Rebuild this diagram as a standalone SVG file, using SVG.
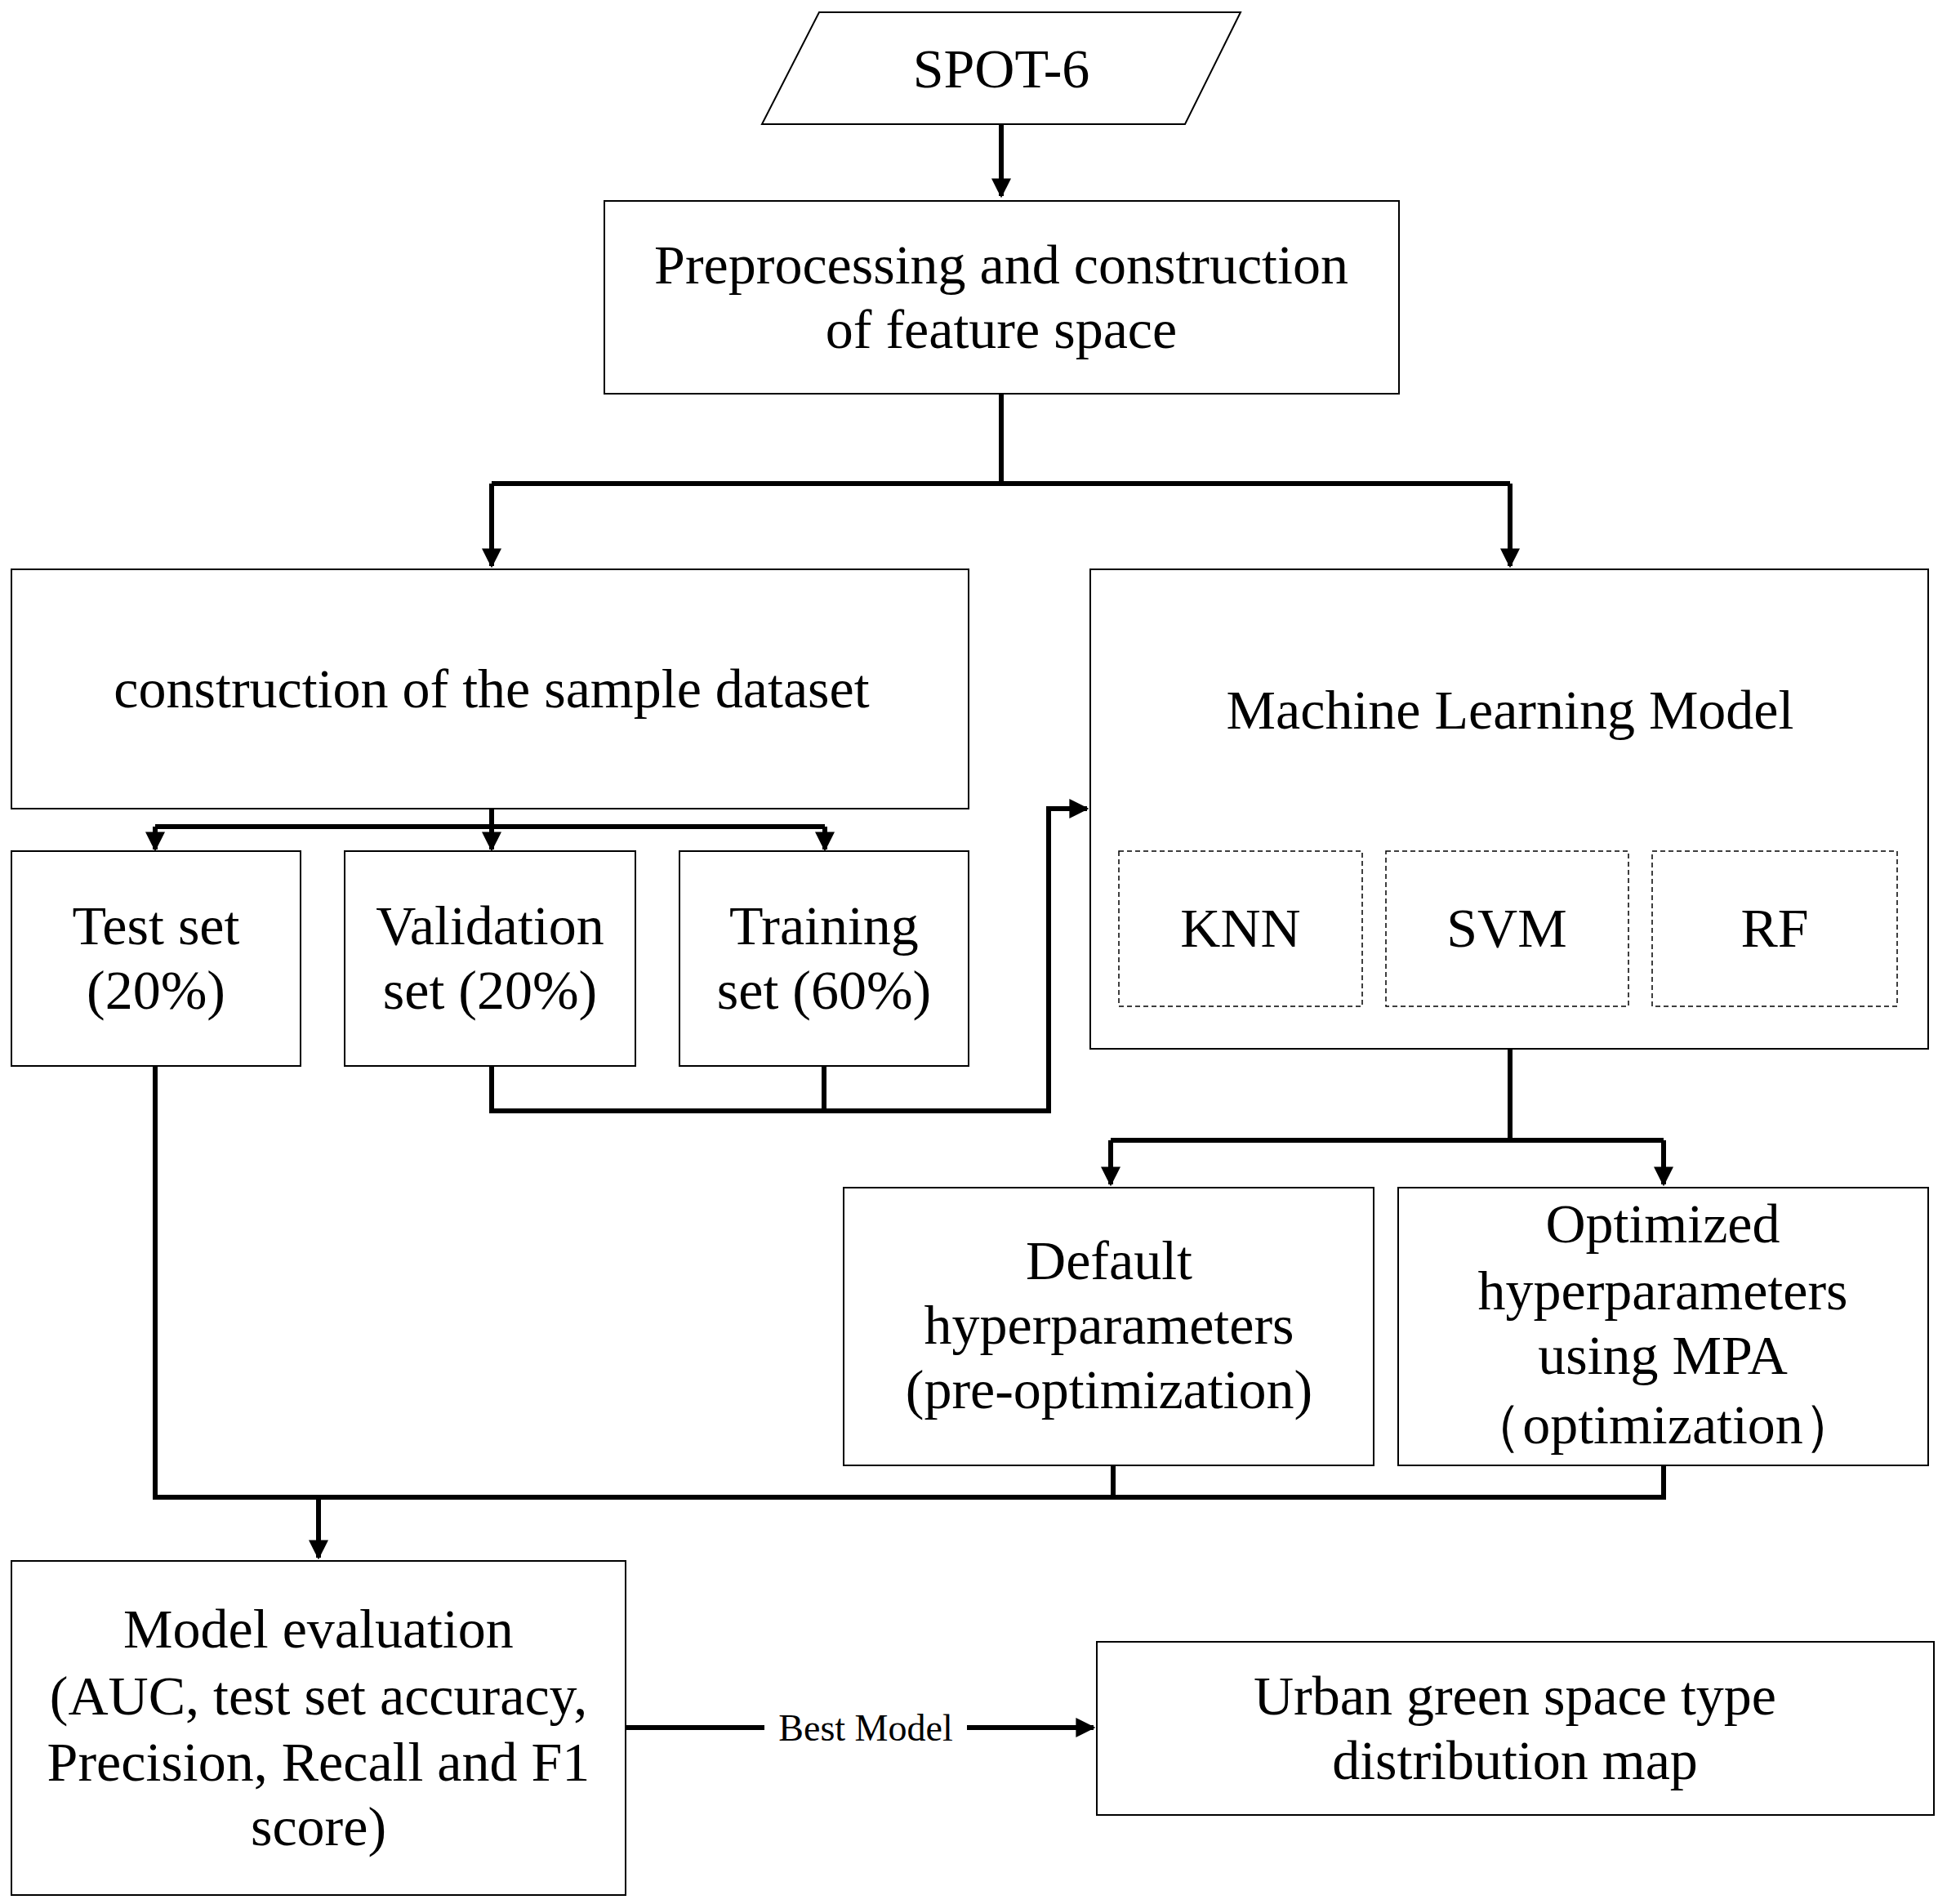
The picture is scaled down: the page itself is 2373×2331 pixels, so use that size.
<svg xmlns="http://www.w3.org/2000/svg" width="2373" height="2331" viewBox="0 0 2373 2331">
<defs>
<style>
.b{fill:#fff;stroke:#000;stroke-width:2}
.d{fill:none;stroke:#000;stroke-width:1.5;stroke-dasharray:6 4}
.t{font-family:"Liberation Serif",serif;font-size:68px;text-anchor:middle;dominant-baseline:central;fill:#000}
.c{fill:none;stroke:#000;stroke-width:6}
</style>
<marker id="a" viewBox="0 0 10 10" refX="9" refY="5" markerWidth="4" markerHeight="4" orient="auto" markerUnits="strokeWidth"><path d="M0,0L10,5L0,10z" fill="#000"/></marker>
</defs>
<rect width="2373" height="2331" fill="#fff"/>
<g id="connectors">
<path class="c" d="M1226,152V240" marker-end="url(#a)"/>
<path class="c" d="M1226,482V592M602,592H1849"/>
<path class="c" d="M602,592V693" marker-end="url(#a)"/>
<path class="c" d="M1849,592V693" marker-end="url(#a)"/>
<path class="c" d="M602,990V1012M190,1012H1010"/>
<path class="c" d="M190,1012V1040" marker-end="url(#a)"/>
<path class="c" d="M602,1012V1040" marker-end="url(#a)"/>
<path class="c" d="M1010,1012V1040" marker-end="url(#a)"/>
<path class="c" d="M602,1305V1360H1284V990H1331" marker-end="url(#a)"/>
<path class="c" d="M1009,1305V1360"/>
<path class="c" d="M1849,1284V1396M1360,1396H2037"/>
<path class="c" d="M1360,1396V1450" marker-end="url(#a)"/>
<path class="c" d="M2037,1396V1450" marker-end="url(#a)"/>
<path class="c" d="M190,1305V1833H2037V1794M1363,1794V1833"/>
<path class="c" d="M390,1833V1907" marker-end="url(#a)"/>
<path class="c" d="M766,2115H936M1184,2115H1339" marker-end="url(#a)"/>
<text class="t" x="1060" y="2115" style="font-size:46px">Best Model</text>
</g>
<g id="spot6"><path class="b" d="M1003,15H1519L1451,152H933z"/><text class="t" x="1226" y="84">SPOT-6</text></g>
<g id="preproc"><rect class="b" x="740" y="246" width="973" height="236"/><text class="t" x="1226" y="324">Preprocessing and construction</text><text class="t" x="1226" y="403">of feature space</text></g>
<g id="sample"><rect class="b" x="14" y="697" width="1172" height="293"/><text class="t" x="602" y="843">construction of the sample dataset</text></g>
<g id="ml"><rect class="b" x="1335" y="697" width="1026" height="587"/><text class="t" x="1849" y="869">Machine Learning Model</text>
<g id="knn"><rect class="d" x="1370" y="1042" width="298" height="190"/><text class="t" x="1519" y="1136">KNN</text></g>
<g id="svm"><rect class="d" x="1697" y="1042" width="297" height="190"/><text class="t" x="1845" y="1136">SVM</text></g>
<g id="rf"><rect class="d" x="2023" y="1042" width="300" height="190"/><text class="t" x="2173" y="1136">RF</text></g></g>
<g id="test"><rect class="b" x="14" y="1042" width="354" height="263"/><text class="t" x="191" y="1133">Test set</text><text class="t" x="191" y="1212">(20%)</text></g>
<g id="val"><rect class="b" x="422" y="1042" width="356" height="263"/><text class="t" x="600" y="1133">Validation</text><text class="t" x="600" y="1212">set (20%)</text></g>
<g id="train"><rect class="b" x="832" y="1042" width="354" height="263"/><text class="t" x="1009" y="1133">Training</text><text class="t" x="1009" y="1212">set (60%)</text></g>
<g id="default"><rect class="b" x="1033" y="1454" width="649" height="340"/><text class="t" x="1358" y="1543">Default</text><text class="t" x="1358" y="1622">hyperparameters</text><text class="t" x="1358" y="1701">(pre-optimization)</text></g>
<g id="optimized"><rect class="b" x="1712" y="1454" width="649" height="340"/><text class="t" x="2036" y="1498">Optimized</text><text class="t" x="2036" y="1580">hyperparameters</text><text class="t" x="2036" y="1659">using MPA</text><text class="t" x="2036" y="1744">（optimization）</text></g>
<g id="eval"><rect class="b" x="14" y="1911" width="752" height="409"/><text class="t" x="390" y="1994">Model evaluation</text><text class="t" x="390" y="2076">(AUC, test set accuracy,</text><text class="t" x="390" y="2157">Precision, Recall and F1</text><text class="t" x="390" y="2236">score)</text></g>
<g id="urban"><rect class="b" x="1343" y="2010" width="1025" height="212"/><text class="t" x="1855" y="2076">Urban green space type</text><text class="t" x="1855" y="2155">distribution map</text></g>
</svg>
